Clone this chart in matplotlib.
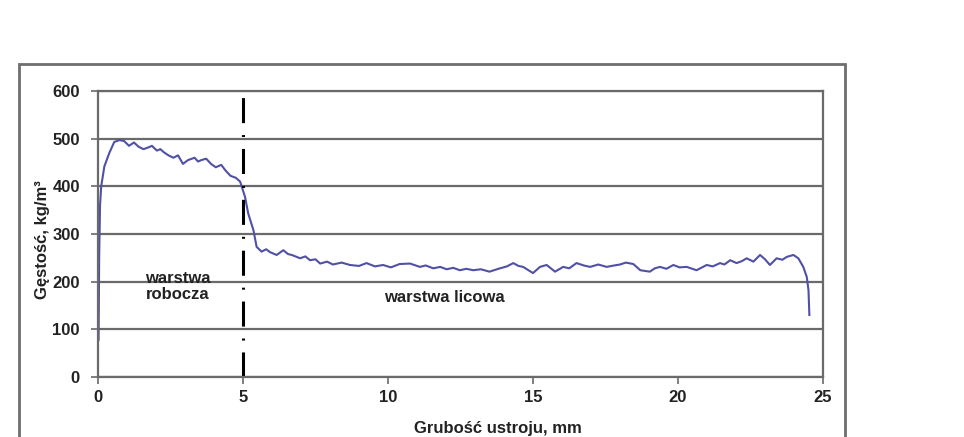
import matplotlib.pyplot as plt
from matplotlib.patches import Rectangle

# density profile (thickness mm, density kg/m3)
thickness = [0.02, 0.04, 0.07, 0.11, 0.22, 0.39, 0.56, 0.74, 0.9, 1.07, 1.24, 1.4,
             1.57, 1.75, 1.86, 2.03, 2.15, 2.26, 2.43, 2.6, 2.76, 2.93, 3.1, 3.33,
             3.45, 3.56, 3.73, 3.9, 4.06, 4.25, 4.4, 4.57, 4.75, 4.9, 5.07, 5.18,
             5.36, 5.47, 5.64, 5.8, 5.93, 6.16, 6.39, 6.55, 6.68, 6.85, 6.97, 7.15,
             7.31, 7.5, 7.66, 7.9, 8.1, 8.4, 8.69, 9.0, 9.26, 9.55, 9.83, 10.1,
             10.4, 10.76, 11.1, 11.3, 11.56, 11.8, 12.02, 12.25, 12.48, 12.7,
             12.94, 13.2, 13.5, 13.86, 14.1, 14.32, 14.5, 14.66, 15.0, 15.24,
             15.47, 15.76, 16.04, 16.25, 16.5, 16.75, 16.97, 17.25, 17.54, 17.8,
             18.0, 18.2, 18.46, 18.7, 19.03, 19.2, 19.38, 19.6, 19.84, 20.05,
             20.3, 20.64, 20.99, 21.2, 21.45, 21.6, 21.8, 22.02, 22.2, 22.37,
             22.6, 22.83, 23.0, 23.17, 23.4, 23.6, 23.75, 23.98, 24.15, 24.32,
             24.44, 24.5, 24.53]
density = [78, 250, 360, 400, 442, 470, 493, 497, 495, 485, 492, 483,
           478, 482, 485, 475, 478, 472, 465, 460, 465, 447, 455, 460,
           452, 455, 458, 447, 440, 445, 433, 422, 418, 410, 378, 343,
           308, 273, 263, 268, 262, 256, 266, 258, 256, 252, 249, 253,
           245, 247, 238, 242, 236, 240, 235, 233, 239, 232, 235, 230,
           237, 238, 231, 234, 228, 231, 226, 229, 224, 227,
           224, 226, 221, 228, 232, 239, 233, 231, 218, 231,
           235, 221, 231, 228, 239, 234, 231, 236, 231, 234,
           236, 240, 237, 224, 221, 228, 231, 227, 235, 230,
           231, 224, 235, 232, 239, 236, 245, 239, 243, 249,
           242, 256, 247, 235, 249, 246, 252, 256, 249, 231,
           210, 182, 130]

y_ticks = [0, 100, 200, 300, 400, 500, 600]
x_ticks = [0, 5, 10, 15, 20, 25]
boundary = 5

fig = plt.figure(figsize=(9.64, 4.37), dpi=100)
plt.rcParams['font.family'] = ['Liberation Sans', 'DejaVu Sans']

# outer chart frame (runs off the bottom of the picture)
fig.patches.append(Rectangle((19 / 964, -0.05), (845 - 19) / 964, 1 - 64 / 437 + 0.05,
                             transform=fig.transFigure, fill=False,
                             edgecolor='#6e6e6e', linewidth=2))

ax = fig.add_axes([98 / 964, 1 - 377 / 437, (823 - 98) / 964, (377 - 91) / 437])
ax.set_xlim(0, 25)
ax.set_ylim(0, 600)
ax.set_xticks(x_ticks)
ax.set_yticks(y_ticks)
ax.yaxis.grid(True, color='#6a6a6a', linewidth=1.6)
ax.set_axisbelow(True)
for side in ax.spines.values():
    side.set_color('#6a6a6a')
    side.set_linewidth(1.6)
ax.tick_params(colors='#6a6a6a', length=5, width=1.2, labelcolor='#222222',
               labelsize=12)
ax.tick_params(axis='y', pad=8)
ax.tick_params(axis='x', pad=4)
for lbl in ax.get_xticklabels() + ax.get_yticklabels():
    lbl.set_fontweight('bold')

ax.plot(thickness, density, color='#5050a6', linewidth=1.5)
ax.plot([boundary, boundary], [0, 600], color='black', linewidth=2.2,
        dashes=(8.2, 3.9, 0.65, 3.9))

ax.text(2.76, 190, 'warstwa\nrobocza', ha='center', va='center',
        fontsize=12, fontweight='bold', color='#222222', linespacing=1.15)
ax.text(11.93, 166, 'warstwa licowa', ha='center', va='center',
        fontsize=12, fontweight='bold', color='#222222')

fig.text(498 / 964, 1 - 428 / 437, 'Grubość ustroju, mm', ha='center', va='center',
         fontsize=12, fontweight='bold', color='#222222')
fig.text(43 / 964, 1 - 240 / 437, 'Gęstość, kg/m³', ha='center', va='center',
         rotation=90, fontsize=12, fontweight='bold', color='#222222')

fig.savefig('out.png', dpi=100)
